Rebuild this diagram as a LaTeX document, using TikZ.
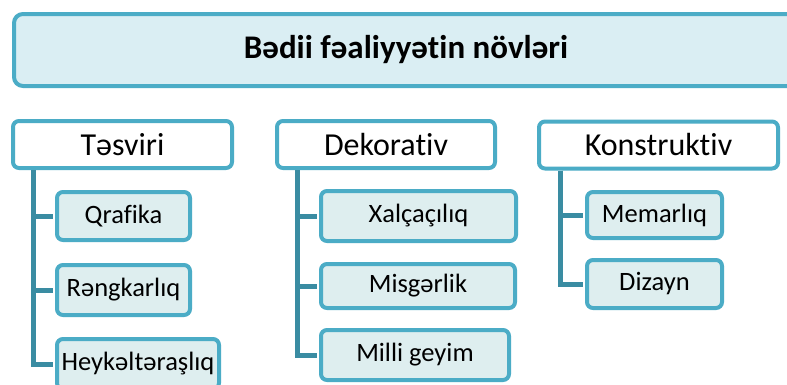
\documentclass[tikz,border=0pt]{standalone}
\usepackage{fontspec}
\setmainfont{Carlito}[Ligatures={NoCommon}]
\definecolor{bord}{HTML}{4BACC6}
\definecolor{conn}{HTML}{3A8CA2}
\definecolor{titlefill}{HTML}{DAEEF3}
\definecolor{subfill}{HTML}{DEEEEF}
\tikzset{
  titlebox/.style={draw=bord, fill=titlefill, line width=4pt, rounded corners=9pt,
    font=\fontsize{33}{38}\selectfont\bfseries, inner sep=0pt},
  catbox/.style={draw=bord, fill=white, line width=4pt, rounded corners=6pt,
    font=\fontsize{32}{36}\selectfont, inner sep=0pt, minimum height=47pt},
  subbox/.style={draw=bord, fill=subfill, line width=4pt, rounded corners=6pt,
    font=\fontsize{26.5}{31}\selectfont, inner sep=0pt},
  conn/.style={draw=conn, line width=5pt}
}
\begin{document}
\begin{tikzpicture}[x=1pt,y=-1pt]
\useasboundingbox (0,0) rectangle (787,384);
\clip (0,0) rectangle (787,384);
\fill[white] (0,0) rectangle (787,384);

% title
\node[titlebox, minimum width=784pt, minimum height=72pt] (title) at (406,50) {Bədii fəaliyyətin növləri};

% categories
\node[catbox, minimum width=219pt] (tes) at (122.5,144.5) {Təsviri};
\node[catbox, minimum width=218pt] (dek) at (386,144.5) {Dekorativ};
\node[catbox, minimum width=239pt] (kon) at (658.5,145) {Konstruktiv};

\coordinate (tesroot) at ([xshift=22pt]tes.south west);
\coordinate (dekroot) at ([xshift=22pt]dek.south west);
\coordinate (konroot) at ([xshift=23pt]kon.south west);

% children
\node[subbox, minimum width=133pt, minimum height=48pt] (qra) at (123.5,216) {Qrafika};
\node[subbox, minimum width=133pt, minimum height=50pt] (ren) at (123.5,290) {Rəngkarlıq};
\node[subbox, minimum width=162pt, minimum height=50pt] (hey) at (138,364) {Heykəltəraşlıq};

\node[subbox, minimum width=195pt, minimum height=50pt] (xal) at (418.5,216) {Xalçaçılıq};
\node[subbox, minimum width=194pt, minimum height=44pt] (mis) at (418,286) {Misgərlik};
\node[subbox, minimum width=188pt, minimum height=50pt] (mil) at (415,355) {Milli geyim};

\node[subbox, minimum width=135pt, minimum height=46pt] (mem) at (654.5,215) {Memarlıq};
\node[subbox, minimum width=135pt, minimum height=48pt] (diz) at (654.5,284) {Dizayn};

\draw[conn] (tesroot) |- ([xshift=-2pt]qra.west);
\draw[conn] (tesroot) |- ([xshift=-2pt]ren.west);
\draw[conn] (tesroot) |- ([xshift=-2pt]hey.west);
\draw[conn] (dekroot) |- ([xshift=-2pt]xal.west);
\draw[conn] (dekroot) |- ([xshift=-2pt]mis.west);
\draw[conn] (dekroot) |- ([xshift=-2pt]mil.west);
\draw[conn] (konroot) |- ([xshift=-2pt]mem.west);
\draw[conn] (konroot) |- ([xshift=-2pt]diz.west);
\end{tikzpicture}
\end{document}
